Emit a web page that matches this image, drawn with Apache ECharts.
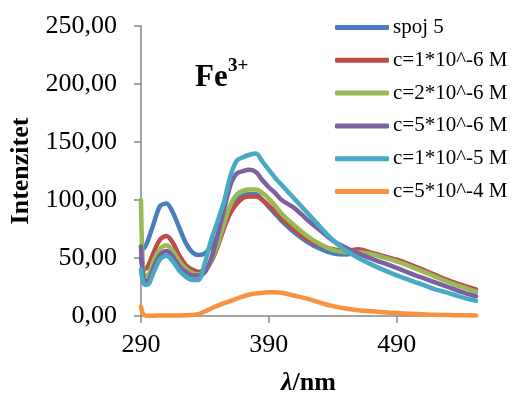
<!DOCTYPE html>
<html>
<head>
<meta charset="utf-8">
<script src="https://cdn.jsdelivr.net/npm/echarts@6/dist/echarts.min.js"></script>
<style>
html,body{margin:0;padding:0;background:#fff;}
#chart{width:512px;height:401px;}
</style>
</head>
<body>
<div id="chart"></div>
<script>
// wavelength (nm)
var wavelengths = [290,292,295,300,305,310,315,320,325,330,335,340,345,350,355,360,365,370,375,380,385,390,395,400,410,420,430,440,450,460,470,480,490,500,510,520,530,540,552];
var spoj5  = [60,58,64,80,95,97,89,76,63,55,52.5,54,60,69,79,91,100,104,105,105,100,94,88,82,72,64,58,54,53,55,54,51,48,44,40,35,30,26,21];
var c1e6   = [50,40,42,55,66,69,63,52,44,40,38,40,47,60,76,89,97,102,103,103,100,95,90,84,74.5,66,61,57.5,56,57.5,54.5,51.5,48.5,44.5,40,35.5,31,27,23];
var c2e6   = [100,36,35,48,58,61,56,47,41,37,36,38,48,62,80,96,105,108,109,109,106,101,95,88,78,69,62,57,55,55,53.5,50.5,47,43,38.5,34,29.5,25.5,21];
var c5e6   = [60,32,30,42,53,56,51,43,38,35,35,38,50,70,92,113,123,125,126,124,117,111,106,100,93,83,74,65,59,54,49.5,45.5,41.5,37,33,29,25,21,17];
var c1e5   = [40,28,27,38,49,52,47,39,34,31,31,46,66,82,99,121,134,137,139,140,133,126,119,113,101,89,77,65.5,56.5,50,44.5,39.5,35,31,27,23,20,16.5,13];
var c5e4   = [8,1,0.3,0.3,0.4,0.5,0.5,0.5,0.6,0.8,1.5,4,6.5,9,11,13,15,17,18.5,19.5,20,20.5,20.5,20,17.5,15,11.5,8.5,6.5,5,4,3.2,2.5,2,1.5,1,0.8,0.6,0.5];
var seriesNames = ['spoj 5','c=1*10^-6 M','c=2*10^-6 M','c=5*10^-6 M','c=1*10^-5 M','c=5*10^-4 M'];
var seriesValues = [spoj5, c1e6, c2e6, c5e6, c1e5, c5e4];
var colors = ['#4A7EBB','#BE4B48','#98B954','#7D60A0','#46AAC5','#F69240'];
var xTicks = [290,390,490];

var FONT = 'Liberation Serif';
var chart = echarts.init(document.getElementById('chart'), null, {renderer:'canvas'});

var series = seriesValues.map(function(vals, i){
  return {
    name: seriesNames[i],
    type: 'line',
    showSymbol: false,
    smooth: 0.3,
    lineStyle: {width: 4.5, color: colors[i], cap: 'round', join: 'round'},
    itemStyle: {color: colors[i]},
    data: wavelengths.map(function(w, k){ return [w, vals[k]]; })
  };
});

chart.setOption({
  animation: false,
  backgroundColor: '#ffffff',
  grid: {left: 141, right: 36, top: 26, bottom: 75, containLabel: false},
  legend: {
    orient: 'vertical',
    left: 330,
    top: 12,
    itemWidth: 54,
    itemHeight: 5,
    itemGap: 11.8,
    icon: 'roundRect',
    itemStyle: {borderWidth: 0},
    textStyle: {fontFamily: FONT, fontSize: 21, color: '#000', padding: [0,0,0,-1]},
    data: seriesNames.map(function(n, i){ return {name: n, itemStyle: {color: colors[i]}}; })
  },
  xAxis: {
    type: 'value',
    min: 290,
    max: 552,
    name: '{i|λ}/nm',
    nameLocation: 'middle',
    nameGap: 54,
    nameTextStyle: {
      fontFamily: FONT, fontSize: 26, fontWeight: 'bold', color: '#000',
      rich: {i: {fontFamily: FONT, fontSize: 26, fontWeight: 'bold', fontStyle: 'italic', color: '#000'}}
    },
    axisLine: {show: true, lineStyle: {color: '#868686', width: 1.5}},
    axisTick: {show: true, length: 7, lineStyle: {color: '#868686', width: 1.5}, customValues: xTicks},
    axisLabel: {fontFamily: FONT, fontSize: 26, color: '#000', margin: 16, customValues: xTicks},
    splitLine: {show: false}
  },
  yAxis: {
    type: 'value',
    min: 0,
    max: 250,
    interval: 50,
    name: 'Intenzitet',
    nameLocation: 'middle',
    nameGap: 106,
    nameTextStyle: {fontFamily: FONT, fontSize: 26, fontWeight: 'bold', color: '#000'},
    axisLine: {show: true, lineStyle: {color: '#868686', width: 1.5}},
    axisTick: {show: true, length: 7, lineStyle: {color: '#868686', width: 1.5}},
    axisLabel: {
      fontFamily: FONT, fontSize: 26, color: '#000', margin: 24,
      formatter: function(v){ return v.toFixed(2).replace('.', ','); }
    },
    splitLine: {show: false}
  },
  graphic: [
    {type: 'text', left: 195, top: 62, style: {text: 'Fe', fontFamily: FONT, fontSize: 31, fontWeight: 'bold', fill: '#000'}},
    {type: 'text', left: 228, top: 57, style: {text: '3+', fontFamily: FONT, fontSize: 19, fontWeight: 'bold', fill: '#000'}}
  ],
  series: series
});
</script>
</body>
</html>
